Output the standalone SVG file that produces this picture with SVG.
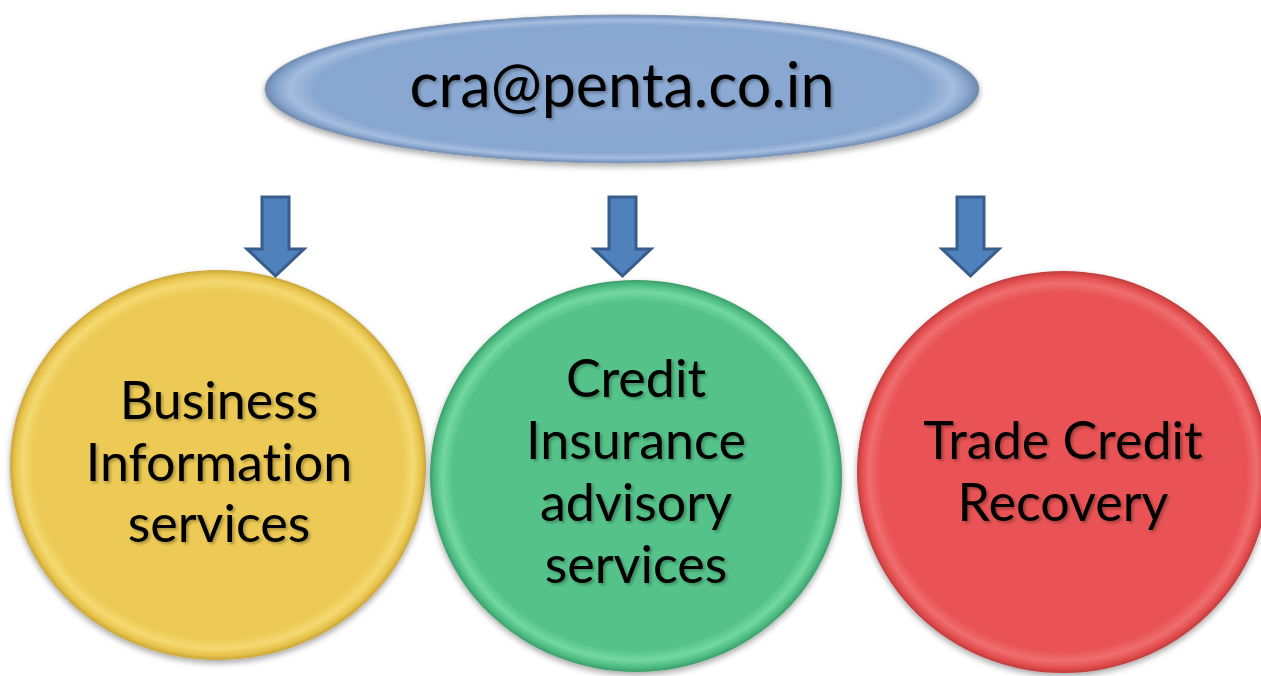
<svg xmlns="http://www.w3.org/2000/svg" width="1261" height="676" viewBox="0 0 1261 676">
  <defs>
    <style>
      .label { font-family: Lato, "Open Sans", "Liberation Sans", sans-serif; fill: #000; text-anchor: middle; font-variant-ligatures: none; font-feature-settings: "liga" 0; }
      .big { font-size: 61px; }
      .mid { font-size: 52px; }
      .arrow { fill: #4F81BD; stroke: #385D8A; stroke-width: 3; stroke-linejoin: miter; }
    </style>
    <!-- bevelled disc fills: flat body, light inner ring, darker rim -->
    <radialGradient id="gBlue" cx="0.5" cy="0.5" r="0.5">
      <stop offset="0" stop-color="#8DABD4"/>
      <stop offset="0.86" stop-color="#87A6D0"/>
      <stop offset="0.93" stop-color="#A4BDDF"/>
      <stop offset="0.97" stop-color="#86A4CD"/>
      <stop offset="1" stop-color="#6D88AE"/>
    </radialGradient>
    <radialGradient id="gYellow" cx="0.5" cy="0.5" r="0.5">
      <stop offset="0" stop-color="#ECCA54"/>
      <stop offset="0.89" stop-color="#ECCA54"/>
      <stop offset="0.94" stop-color="#F4D972"/>
      <stop offset="0.975" stop-color="#E8C44C"/>
      <stop offset="1" stop-color="#C9A63A"/>
    </radialGradient>
    <radialGradient id="gGreen" cx="0.5" cy="0.5" r="0.5">
      <stop offset="0" stop-color="#54C389"/>
      <stop offset="0.89" stop-color="#54C389"/>
      <stop offset="0.94" stop-color="#74D7A2"/>
      <stop offset="0.975" stop-color="#4FBE84"/>
      <stop offset="1" stop-color="#3C9D6A"/>
    </radialGradient>
    <radialGradient id="gRed" cx="0.5" cy="0.5" r="0.5">
      <stop offset="0" stop-color="#E95354"/>
      <stop offset="0.89" stop-color="#E95354"/>
      <stop offset="0.94" stop-color="#EF6E6F"/>
      <stop offset="0.975" stop-color="#E54F50"/>
      <stop offset="1" stop-color="#C03C3D"/>
    </radialGradient>
    <filter id="shadow" x="-10%" y="-10%" width="120%" height="125%">
      <feGaussianBlur in="SourceAlpha" stdDeviation="3"/>
      <feOffset dx="0" dy="3" result="b"/>
      <feComponentTransfer><feFuncA type="linear" slope="0.35"/></feComponentTransfer>
      <feMerge><feMergeNode/><feMergeNode in="SourceGraphic"/></feMerge>
    </filter>
    <filter id="textShadow" x="-5%" y="-20%" width="110%" height="140%">
      <feGaussianBlur in="SourceAlpha" stdDeviation="1.5"/>
      <feOffset dx="1.5" dy="2"/>
      <feComponentTransfer><feFuncA type="linear" slope="0.3"/></feComponentTransfer>
      <feMerge><feMergeNode/><feMergeNode in="SourceGraphic"/></feMerge>
    </filter>
  </defs>

  <rect width="1261" height="676" fill="#FFFFFF"/>

  <!-- top node -->
  <g id="node-email" filter="url(#shadow)">
    <ellipse cx="622" cy="89" rx="357" ry="74" fill="url(#gBlue)" stroke="#8A9BB0" stroke-width="1"/>
    <text class="label big" x="622" y="107" filter="url(#textShadow)">cra@penta.co.in</text>
  </g>

  <!-- service nodes -->
  <g id="node-business" filter="url(#shadow)">
    <ellipse cx="218" cy="465" rx="208" ry="195" fill="url(#gYellow)"/>
    <text class="label mid" filter="url(#textShadow)"><tspan x="219" y="419">Business</tspan><tspan x="219" y="481">Information</tspan><tspan x="219" y="542">services</tspan></text>
  </g>

  <g id="node-insurance" filter="url(#shadow)">
    <ellipse cx="636" cy="476" rx="206" ry="196" fill="url(#gGreen)"/>
    <text class="label mid" filter="url(#textShadow)"><tspan x="636" y="397">Credit</tspan><tspan x="636" y="459">Insurance</tspan><tspan x="636" y="521">advisory</tspan><tspan x="636" y="583">services</tspan></text>
  </g>

  <g id="node-recovery" filter="url(#shadow)">
    <ellipse cx="1063" cy="472" rx="206" ry="201" fill="url(#gRed)"/>
    <text class="label mid" filter="url(#textShadow)"><tspan x="1063" y="459">Trade Credit</tspan><tspan x="1063" y="521">Recovery</tspan></text>
  </g>

  <!-- block arrows from the top node to each service -->
  <g id="connectors">
    <path class="arrow" d="M262 197 H289 V249 H304 L275.5 276 L247 249 H262 Z"/>
    <path class="arrow" d="M609 197 H636 V249 H651 L622.5 276 L594 249 H609 Z"/>
    <path class="arrow" d="M957 197 H984 V249 H999 L970.5 276 L942 249 H957 Z"/>
  </g>
</svg>
